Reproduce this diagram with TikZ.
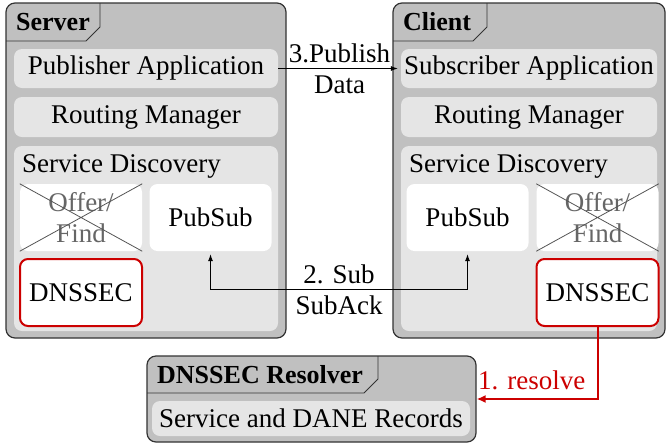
\documentclass[tikz,border=0pt]{standalone}
\usepackage{fontspec}
\setmainfont{Liberation Serif}
\usetikzlibrary{arrows.meta,calc}
\definecolor{outerfill}{HTML}{C0C0C0}
\definecolor{innerfill}{HTML}{E5E5E5}
\definecolor{dnsred}{HTML}{CC0000}
\definecolor{crossgray}{HTML}{555555}
\definecolor{fadetext}{HTML}{666666}
\begin{document}
\begin{tikzpicture}[x=1pt,y=-1pt, font=\fontsize{27}{31}\selectfont,
  outerbox/.style={draw=black!80, line width=1.2pt, fill=outerfill, rounded corners=9pt, inner sep=0pt},
  innerbox/.style={fill=innerfill, rounded corners=8pt, inner sep=0pt},
  whitebox/.style={fill=white, rounded corners=8pt, inner sep=0pt, minimum width=122pt, minimum height=67pt, align=center},
  dnsbox/.style={whitebox, draw=dnsred, line width=2pt},
  tabline/.style={draw=black!80, line width=0.9pt},
  crossline/.style={draw=crossgray, line width=0.8pt},
  title/.style={anchor=base west, inner sep=0pt, font=\fontsize{26}{31}\selectfont\bfseries},
  conn/.style={draw=black, line width=0.8pt, -{Latex[length=7pt,width=5pt]}, shorten >=3pt},
  biconn/.style={draw=black, line width=0.8pt, {Latex[length=7pt,width=5pt]}-{Latex[length=7pt,width=5pt]}, shorten >=3pt, shorten <=3pt},
  redconn/.style={draw=dnsred, line width=2pt, -{Latex[length=9pt,width=8pt]}},
  lbl/.style={anchor=base}
]
\useasboundingbox (0,0) rectangle (668,445);

% ---------- Server ----------
\node[outerbox, minimum width=280pt, minimum height=335pt] (server) at (146,170.5) {};
\draw[tabline] (6,41) -- (86,41) -- (100,27) -- (100,3);
\node[title] (servertitle) at (16,30) {Server};
\node[innerbox, minimum width=264pt, minimum height=39pt] (pubapp) at (146,68.5) {Publisher Application};
\node[innerbox, minimum width=264pt, minimum height=40pt] (srout) at (146,117) {Routing Manager};
\node[innerbox, minimum width=264pt, minimum height=185pt] (ssd) at (146,238.5) {};
\node[anchor=base west, inner sep=0pt] (ssdlabel) at (22,172) {Service Discovery};
\node[whitebox, text=fadetext] (soffer) at (81,217.5) {Offer/\\Find};
\draw[crossline] (soffer.north west) -- (soffer.south east) (soffer.north east) -- (soffer.south west);
\node[whitebox] (spub) at (210.5,217.5) {PubSub};
\node[dnsbox] (sdns) at (81,292.5) {DNSSEC};

% ---------- Client ----------
\node[outerbox, minimum width=272pt, minimum height=335pt] (client) at (529,170.5) {};
\draw[tabline] (393,41) -- (473,41) -- (487,27) -- (487,3);
\node[title] (clienttitle) at (403,30) {Client};
\node[innerbox, minimum width=256pt, minimum height=39pt] (subapp) at (529,68.5) {Subscriber Application};
\node[innerbox, minimum width=256pt, minimum height=40pt] (crout) at (529,117) {Routing Manager};
\node[innerbox, minimum width=256pt, minimum height=185pt] (csd) at (529,238.5) {};
\node[anchor=base west, inner sep=0pt] (csdlabel) at (409,172) {Service Discovery};
\node[whitebox] (cpub) at (467.5,217.5) {PubSub};
\node[whitebox, text=fadetext] (coffer) at (597.5,217.5) {Offer/\\Find};
\draw[crossline] (coffer.north west) -- (coffer.south east) (coffer.north east) -- (coffer.south west);
\node[dnsbox] (cdns) at (597.5,292.5) {DNSSEC};

% ---------- Resolver ----------
\node[outerbox, minimum width=329pt, minimum height=86pt] (resolver) at (311.5,399) {};
\draw[tabline] (147,393) -- (364,393) -- (378,379) -- (378,356);
\node[title] (restitle) at (157,383) {DNSSEC Resolver};
\node[innerbox, minimum width=318pt, minimum height=35pt] (records) at (311,418.5) {Service and DANE Records};

% ---------- Connectors ----------
\draw[conn] (pubapp.east) -- node[lbl, yshift=6pt] {3.Publish} node[lbl, yshift=-25pt] {Data} (subapp.west);

\coordinate (sa) at ($(spub.south)+(0,38)$);
\coordinate (sb) at (sa -| cpub.south);
\draw[biconn] (spub.south) -- (sa) -- node[lbl, yshift=6pt] {2. Sub} node[lbl, yshift=-25pt] {SubAck} (sb) -- (cpub.south);

\coordinate (rc) at (cdns.south |- resolver.east);
\draw[redconn] (cdns.south) -- (rc) -- (resolver.east);
\node[anchor=base east, text=dnsred, inner sep=0pt] (reslabel) at ($(rc)+(-12,-10)$) {1. resolve};
\end{tikzpicture}
\end{document}
